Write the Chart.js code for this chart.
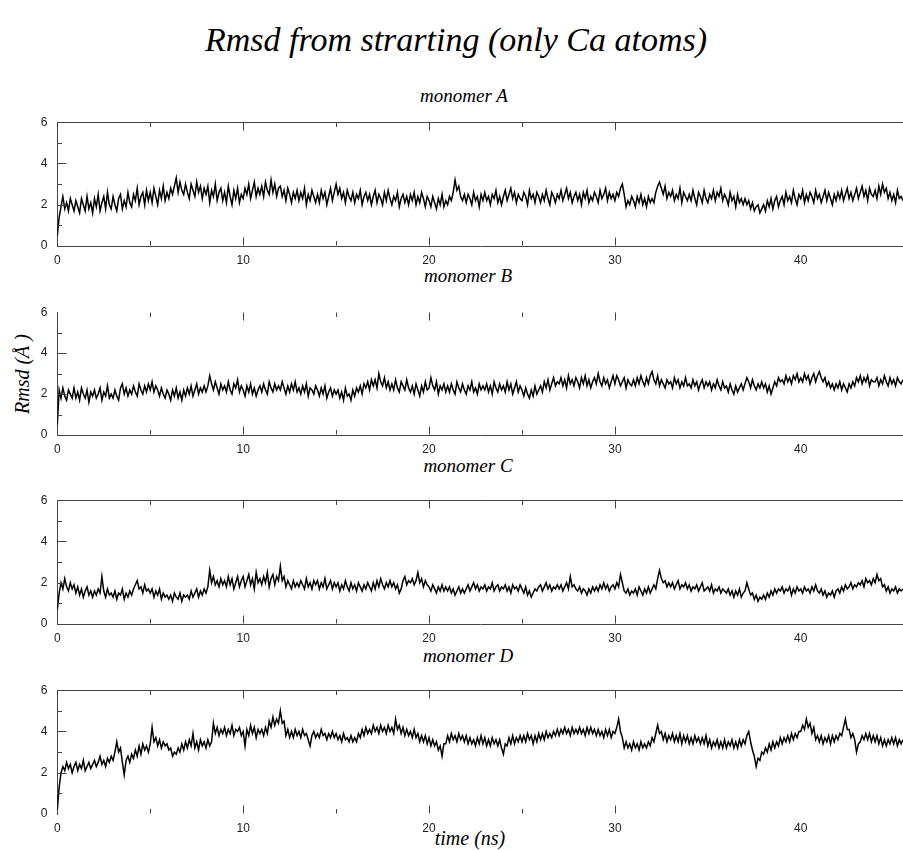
<!DOCTYPE html>
<html>
<head>
<meta charset="utf-8">
<script src="https://cdn.jsdelivr.net/npm/chart.js@4.4.1/dist/chart.umd.min.js"></script>
<style>
  html, body { margin:0; padding:0; background:#fff; }
  body { width:903px; height:850px; position:relative; overflow:hidden; }
  canvas { position:absolute; left:0; }
  .t { position:absolute; font-family:"Liberation Serif","DejaVu Serif",serif; font-style:italic; color:#000; white-space:nowrap; line-height:1; transform:translate(-50%,-50%); }
</style>
</head>
<body>
<div class="t" style="left:456px; top:40px; font-size:34px;">Rmsd from strarting (only Ca atoms)</div>
<div class="t" style="left:464px; top:95px; font-size:19px;">monomer A</div>
<div class="t" style="left:468px; top:275px; font-size:19px;">monomer B</div>
<div class="t" style="left:468px; top:465px; font-size:19px;">monomer C</div>
<div class="t" style="left:468px; top:655px; font-size:19px;">monomer D</div>
<div class="t" style="left:470px; top:838px; font-size:20px;">time (ns)</div>
<div class="t" style="left:22px; top:374px; font-size:20px; transform:translate(-50%,-50%) rotate(-90deg);">Rmsd (Å )</div>

<canvas id="cA"></canvas>
<canvas id="cB"></canvas>
<canvas id="cC"></canvas>
<canvas id="cD"></canvas>

<script>
const STEP_NS = 0.1;
const X_MAX = 45.5;
const xTickLabels = [0, 10, 20, 30, 40];
const yTickLabels = [0, 2, 4, 6];
const monomerNames = ['monomer A', 'monomer B', 'monomer C', 'monomer D'];

const rmsdA = [
0.5,1.4,1.9,2.4,1.8,2.1,1.7,2.3,2.0,1.7,
2.2,1.9,1.6,2.3,2.0,1.7,2.4,1.8,2.1,1.6,
2.3,1.9,2.5,1.7,2.1,2.4,1.8,2.6,2.0,1.8,
2.4,2.0,1.7,2.3,2.5,1.8,2.2,1.9,2.6,2.1,
1.9,2.5,2.2,2.8,2.0,2.4,2.6,2.0,2.7,2.2,
2.6,2.1,2.8,2.4,2.0,2.7,2.3,2.9,2.2,2.6,
2.3,2.8,2.5,2.9,3.3,2.6,3.1,2.7,2.5,3.0,
2.6,2.3,3.0,2.7,2.4,3.1,2.6,2.9,2.3,2.8,
2.5,2.9,2.1,2.7,2.4,3.0,2.2,2.6,2.8,2.2,
2.6,2.1,2.9,2.4,2.0,2.7,2.3,2.8,2.1,2.5,
2.3,2.8,2.5,3.0,2.3,2.7,3.1,2.4,2.8,2.5,
2.9,2.4,3.1,2.7,2.5,3.2,2.6,3.0,2.4,2.8,
2.9,2.4,2.7,2.2,2.8,2.5,2.1,2.6,2.3,2.7,
2.2,2.6,2.3,2.8,2.0,2.5,2.2,2.7,2.4,2.1,
2.5,2.1,2.7,2.3,2.6,2.0,2.4,2.8,2.2,2.6,
3.0,2.5,2.8,2.3,2.6,2.1,2.7,2.4,2.2,2.6,
2.1,2.5,2.3,2.7,2.0,2.4,2.6,2.2,2.5,2.0,
2.4,2.7,2.1,2.5,2.3,2.0,2.6,2.2,2.7,2.3,
2.0,2.4,2.2,2.6,1.9,2.3,2.5,2.1,2.4,2.0,
2.5,2.2,2.6,2.0,2.4,2.1,2.6,2.3,1.9,2.4,
2.2,1.9,2.4,2.1,1.8,2.3,2.0,2.5,1.9,2.2,
2.0,2.4,2.2,2.6,3.2,2.7,2.9,2.4,2.2,2.5,
2.1,2.5,2.3,2.0,2.6,2.2,2.4,1.9,2.5,2.2,
2.6,2.2,2.4,2.0,2.5,2.3,2.7,2.1,2.4,2.0,
2.4,2.7,2.2,2.5,2.8,2.3,2.6,2.1,2.5,2.3,
2.2,2.6,2.4,2.0,2.7,2.3,2.5,2.1,2.6,2.4,
2.1,2.5,2.2,2.7,2.3,2.0,2.6,2.4,2.1,2.5,
2.3,2.7,2.2,2.5,2.8,2.3,2.6,2.1,2.4,2.6,
2.2,2.5,2.0,2.6,2.3,2.7,2.1,2.4,2.2,2.6,
2.4,2.1,2.7,2.3,2.5,2.8,2.2,2.6,2.3,2.5,
2.2,2.6,2.4,2.8,3.0,2.5,1.9,2.2,2.0,2.4,
2.2,1.9,2.4,2.1,2.5,2.0,2.3,1.9,2.4,2.1,
2.3,2.1,2.6,2.9,3.1,2.8,2.5,2.9,2.3,2.6,
2.4,2.7,2.2,2.5,2.3,2.8,2.1,2.6,2.4,2.2,
2.5,2.2,2.7,2.3,2.0,2.6,2.4,2.1,2.7,2.3,
2.1,2.5,2.3,2.7,2.2,2.6,2.4,2.8,2.2,2.5,
2.3,2.0,2.6,2.2,2.4,1.9,2.5,2.1,2.3,2.0,
2.3,2.0,2.2,1.8,2.1,1.7,1.9,2.0,1.6,1.8,
2.0,1.7,2.2,1.9,2.3,1.8,2.2,2.4,1.9,2.2,
2.4,2.0,2.6,2.2,2.4,2.1,2.7,2.3,2.0,2.5,
2.3,2.7,2.1,2.5,2.2,2.6,2.4,2.1,2.7,2.3,
2.5,2.1,2.4,2.7,2.2,2.6,2.3,2.0,2.5,2.2,
2.6,2.3,2.7,2.2,2.5,2.8,2.3,2.6,2.2,2.5,
2.8,2.3,2.6,2.9,2.4,2.7,2.2,2.8,2.5,2.4,
2.7,2.3,2.9,2.5,3.0,2.6,2.8,2.3,2.6,2.2,
2.5,2.1,2.7,2.3,2.4,2.2
];

const rmsdB = [
0.5,2.2,1.8,2.3,1.9,1.7,2.2,2.0,1.8,2.3,
1.8,2.1,1.7,2.3,2.0,1.8,2.2,1.6,2.1,1.9,
2.2,1.8,2.0,2.3,1.7,2.1,1.9,2.4,1.8,2.0,
1.8,2.2,1.9,1.7,2.3,2.5,2.0,2.3,1.9,2.2,
2.0,2.4,2.1,1.9,2.5,2.2,2.0,2.4,2.1,2.5,
2.2,2.6,2.1,2.4,2.2,1.9,2.3,2.0,1.8,2.2,
2.0,1.7,2.2,1.9,2.3,1.8,2.1,1.7,2.2,1.9,
2.3,2.0,2.4,1.9,2.2,2.5,2.0,2.3,2.1,2.4,
2.1,2.4,2.9,2.5,2.2,2.6,2.3,2.0,2.5,2.2,
2.4,2.1,2.6,2.2,2.0,2.5,2.3,2.7,2.1,2.4,
2.2,1.9,2.4,2.1,2.5,2.0,2.3,1.9,2.2,2.4,
2.1,2.5,2.2,2.0,2.6,2.3,2.1,2.5,2.2,2.4,
2.2,2.6,2.3,2.0,2.4,2.1,2.5,2.2,2.6,2.1,
2.3,2.0,2.4,2.1,2.5,1.9,2.3,2.2,2.0,2.4,
2.2,1.9,2.3,2.0,2.4,1.8,2.1,2.3,1.9,2.2,
2.0,2.2,1.8,2.1,1.7,2.3,1.9,2.0,1.7,2.2,
1.9,2.3,2.1,2.4,2.0,2.5,2.3,2.6,2.2,2.7,
2.4,2.7,2.3,3.0,2.6,2.4,2.8,2.3,2.6,2.2,
2.5,2.2,2.7,2.3,2.1,2.6,2.4,2.2,2.7,2.3,
2.1,2.4,2.0,2.5,2.2,1.9,2.4,2.1,2.6,2.2,
2.3,2.8,2.4,2.2,2.6,2.0,2.4,2.2,2.5,2.1,
2.4,2.1,2.5,2.2,2.0,2.6,2.3,2.1,2.5,2.2,
2.0,2.4,2.2,2.6,2.1,2.3,2.0,2.5,2.2,2.4,
2.2,2.5,2.1,2.4,2.0,2.6,2.3,2.1,2.5,2.2,
2.4,2.1,2.6,2.2,2.5,2.0,2.3,2.6,2.1,2.4,
2.2,1.9,2.3,2.0,1.8,2.2,1.9,2.4,2.0,2.2,
2.4,2.1,2.6,2.3,2.7,2.2,2.5,2.8,2.4,2.6,
2.5,2.8,2.4,2.7,2.3,2.9,2.5,2.7,2.4,2.8,
2.6,2.3,2.8,2.5,2.9,2.4,2.7,2.3,2.6,2.8,
2.5,3.0,2.6,2.4,2.8,2.5,2.7,2.3,2.6,2.9,
2.5,2.9,2.7,2.4,2.6,2.8,2.3,2.7,2.5,2.4,
2.7,2.4,2.8,2.5,2.9,2.6,2.4,2.8,2.5,2.9,
3.1,2.7,2.5,2.9,2.4,2.7,2.5,2.3,2.7,2.5,
2.6,2.3,2.8,2.5,2.7,2.3,2.6,2.4,2.8,2.4,
2.5,2.3,2.7,2.4,2.6,2.2,2.5,2.7,2.3,2.6,
2.4,2.6,2.2,2.5,2.3,2.7,2.4,2.2,2.6,2.3,
2.4,2.1,2.5,2.2,2.0,2.4,2.1,2.3,2.5,2.2,
2.5,2.8,2.6,2.3,2.7,2.4,2.2,2.5,2.3,2.6,
2.3,2.5,2.1,2.4,2.0,2.3,2.6,2.4,2.8,2.6,
2.7,2.5,2.9,2.6,2.8,2.5,2.9,2.7,3.0,2.6,
2.8,2.6,3.0,2.7,2.9,2.5,2.8,3.0,2.6,2.9,
3.1,2.8,2.6,2.8,2.4,2.6,2.3,2.5,2.2,2.5,
2.3,2.6,2.2,2.5,2.3,2.1,2.5,2.3,2.6,2.4,
2.8,2.6,2.9,2.5,2.8,2.6,2.9,2.4,2.7,2.6,
2.6,2.8,2.4,2.7,2.5,2.9,2.6,2.4,2.8,2.5,
2.7,2.4,2.8,2.6,2.5,2.7
];

const rmsdC = [
0.7,1.5,2.0,1.7,2.2,1.8,1.6,2.0,1.7,1.9,
1.5,1.8,1.4,1.7,1.3,1.6,1.8,1.4,1.6,1.3,
1.6,1.4,1.7,1.5,2.3,1.6,1.3,1.7,1.4,1.5,
1.3,1.6,1.2,1.5,1.4,1.7,1.2,1.5,1.3,1.6,
1.4,1.7,1.9,2.1,1.7,1.8,1.5,1.9,1.6,1.7,
1.5,1.7,1.3,1.6,1.4,1.7,1.2,1.5,1.3,1.4,
1.2,1.4,1.1,1.5,1.3,1.2,1.5,1.1,1.4,1.3,
1.4,1.2,1.6,1.3,1.5,1.7,1.3,1.6,1.4,1.7,
1.5,1.8,2.6,2.0,2.3,1.9,2.1,1.8,2.2,1.9,
2.1,1.8,2.3,1.9,2.2,1.7,2.0,2.3,1.8,2.1,
2.3,1.8,2.1,2.4,1.9,2.2,1.7,2.5,2.0,2.2,
1.9,2.3,2.0,2.5,1.8,2.2,2.4,1.9,2.3,2.1,
2.8,2.1,2.3,1.8,2.1,1.9,1.7,2.1,1.8,2.0,
1.8,2.1,1.9,1.7,2.2,1.8,2.0,1.7,2.1,1.9,
2.1,1.7,2.0,1.8,2.2,1.7,1.9,2.1,1.7,2.0,
1.8,2.0,1.6,1.9,1.7,2.1,1.8,1.6,2.0,1.7,
1.9,1.6,2.0,1.8,1.6,1.9,1.7,2.0,1.8,1.6,
2.0,1.7,2.1,1.8,2.2,1.9,1.7,2.0,1.8,2.1,
1.8,2.0,1.7,1.9,1.5,1.7,2.1,2.3,1.9,2.1,
2.0,2.2,1.9,2.1,2.5,2.0,2.2,1.8,2.1,1.9,
1.8,1.6,1.9,1.7,1.5,1.8,1.6,1.9,1.6,1.8,
1.6,1.8,1.5,1.7,1.4,1.6,1.8,1.5,1.7,1.5,
1.7,1.9,1.6,1.8,2.0,1.7,1.9,1.6,1.8,1.7,
1.9,1.6,1.8,1.7,2.0,1.6,1.8,1.9,1.6,1.8,
1.7,1.9,1.6,1.8,1.5,1.9,1.7,1.8,1.6,1.9,
1.7,1.5,1.8,1.4,1.6,1.3,1.5,1.7,1.6,1.8,
1.9,1.6,1.8,2.0,1.7,1.9,1.6,1.8,1.7,1.9,
1.7,1.9,1.6,1.8,2.0,1.7,2.3,1.8,1.9,1.7,
1.6,1.8,1.5,1.7,1.6,1.4,1.7,1.5,1.8,1.6,
1.8,1.6,1.9,1.7,2.0,1.7,1.9,1.6,1.8,1.9,
1.7,2.0,1.8,2.4,2.0,1.6,1.5,1.7,1.4,1.6,
1.5,1.7,1.4,1.8,1.6,1.4,1.7,1.5,1.8,1.5,
1.7,1.9,1.7,2.2,2.6,2.2,2.0,2.1,1.8,2.0,
1.8,2.0,1.7,1.9,2.1,1.7,1.9,1.8,2.0,1.7,
1.9,1.6,1.8,1.7,1.9,1.6,1.8,2.0,1.6,1.7,
1.8,1.6,1.9,1.5,1.7,1.6,1.8,1.5,1.7,1.6,
1.5,1.7,1.4,1.6,1.3,1.6,1.4,1.7,1.3,1.5,
1.6,2.0,1.7,1.4,1.5,1.2,1.4,1.1,1.3,1.2,
1.4,1.2,1.5,1.3,1.6,1.4,1.7,1.5,1.7,1.6,
1.8,1.5,1.7,1.6,1.8,1.4,1.7,1.5,1.8,1.6,
1.7,1.5,1.8,1.6,1.7,1.5,1.8,1.6,1.9,1.6,
1.5,1.7,1.4,1.6,1.3,1.5,1.4,1.6,1.3,1.6,
1.7,1.5,1.8,1.6,1.9,1.7,1.8,2.0,1.7,1.9,
1.8,2.0,1.9,2.1,1.8,2.2,2.0,2.1,1.9,2.2,
2.0,2.4,2.1,2.2,1.8,1.9,1.6,1.8,1.5,1.7,
1.6,1.8,1.5,1.7,1.6,1.7
];

const rmsdD = [
0.2,1.3,2.0,2.3,2.1,2.5,2.2,2.4,2.0,2.3,
2.5,2.1,2.4,2.2,2.6,2.1,2.3,2.5,2.2,2.4,
2.6,2.3,2.5,2.8,2.4,2.6,2.3,2.7,2.5,2.8,
2.6,3.0,3.5,3.0,3.2,2.5,1.9,2.6,2.8,2.5,
2.9,2.7,3.1,2.8,3.3,2.9,3.4,3.1,3.3,3.0,
3.4,4.2,3.5,3.7,3.3,3.6,3.2,3.5,3.3,3.4,
3.1,3.2,2.8,3.0,2.9,3.2,3.0,3.4,3.1,3.5,
3.2,3.6,3.3,3.9,3.2,3.5,3.1,3.6,3.3,3.5,
3.2,3.6,3.3,3.5,4.4,3.9,4.2,3.8,4.1,3.9,
4.2,3.8,4.1,3.9,4.3,3.8,4.1,4.0,4.2,3.8,
4.0,3.3,4.1,3.8,4.3,3.9,4.2,3.7,4.1,3.9,
4.1,3.8,4.2,3.9,4.5,4.2,4.7,4.3,4.6,4.4,
5.0,4.4,4.5,3.8,4.1,3.7,4.0,3.7,4.1,3.8,
4.0,3.7,4.1,3.8,3.9,3.6,3.3,3.8,4.0,3.7,
3.9,3.7,4.1,3.8,3.9,3.6,3.9,3.7,4.0,3.7,
3.9,3.6,3.8,3.5,3.9,3.6,3.7,3.5,3.8,3.5,
3.7,3.5,3.9,3.7,4.1,3.8,4.2,3.9,4.1,3.9,
4.3,4.0,4.2,3.9,4.3,4.0,4.2,3.9,4.3,4.0,
4.2,3.9,4.6,4.1,4.3,3.9,4.2,3.8,4.1,3.8,
4.0,3.7,4.1,3.7,3.9,3.5,3.8,3.5,3.8,3.4,
3.7,3.3,3.6,3.3,3.5,3.1,3.3,2.8,3.4,3.4,
3.8,3.5,3.9,3.6,3.8,3.5,3.9,3.6,3.8,3.5,
3.8,3.4,3.7,3.4,3.6,3.3,3.7,3.4,3.8,3.4,
3.7,3.3,3.6,3.3,3.7,3.4,3.6,3.3,3.6,3.2,
2.9,3.4,3.3,3.7,3.4,3.8,3.4,3.7,3.5,3.8,
3.5,3.8,3.5,3.9,3.6,3.8,3.4,3.8,3.5,3.9,
3.6,3.9,3.6,4.0,3.7,3.9,3.7,4.0,3.8,4.1,
3.8,4.1,3.9,4.2,3.9,4.1,3.8,4.2,3.9,4.1,
3.9,4.2,3.9,4.1,3.8,4.2,3.9,4.2,3.9,4.1,
3.8,4.1,3.8,4.0,3.7,4.1,3.8,4.1,3.7,4.0,
3.9,4.2,4.6,4.0,3.7,3.2,3.5,3.2,3.4,3.1,
3.5,3.2,3.4,3.1,3.5,3.2,3.4,3.2,3.5,3.3,
3.7,3.5,3.9,4.3,3.9,4.0,3.6,3.9,3.5,3.8,
3.6,3.9,3.5,3.8,3.5,3.9,3.4,3.8,3.5,3.8,
3.4,3.7,3.4,3.8,3.5,3.7,3.4,3.7,3.4,3.8,
3.3,3.6,3.2,3.5,3.3,3.6,3.2,3.5,3.2,3.6,
3.2,3.5,3.3,3.6,3.2,3.5,3.2,3.6,3.3,3.6,
3.4,3.8,4.0,3.5,3.1,2.8,2.3,2.7,2.6,3.0,
2.9,3.2,3.0,3.4,3.1,3.5,3.2,3.5,3.3,3.7,
3.4,3.7,3.5,3.8,3.5,3.9,3.6,3.9,3.7,4.0,
4.0,4.3,4.1,4.6,4.2,4.4,3.9,4.2,3.6,3.8,
3.5,3.8,3.4,3.7,3.5,3.8,3.4,3.8,3.5,3.8,
3.6,3.9,3.8,4.2,4.6,4.1,4.1,3.7,3.9,3.6,
3.0,3.4,3.5,3.8,3.6,3.9,3.6,3.9,3.5,3.8,
3.5,3.8,3.4,3.7,3.3,3.6,3.3,3.6,3.4,3.7,
3.4,3.7,3.3,3.6,3.4,3.6
];

// ---- layout (positions only) ----
const PANELS = [
  { id:'cA', values:rmsdA, top:115,   height:130.7, topLine:true,  bottomLine:true  },
  { id:'cB', values:rmsdB, top:304.5, height:129.5, topLine:false, bottomLine:true  },
  { id:'cC', values:rmsdC, top:493.3, height:130.7, topLine:true,  bottomLine:true  },
  { id:'cD', values:rmsdD, top:682.7, height:131.3, topLine:true,  bottomLine:false }
];
const PAD_TOP = 10, X_AXIS_H = 30, Y_AXIS_W = 57.3;
const FRAME = '#444';
const X_MAJOR_TICKS = [10, 20, 30];
const X_MINOR_TICKS = [5, 15, 25];
const Y_MAJOR_TICKS = [2, 4];
const Y_MINOR_TICKS = [1, 3, 5];

const frameTicks = {
  id: 'frameTicks',
  afterDatasetsDraw(chart, args, opts) {
    const { ctx, chartArea: a, scales: { x, y } } = chart;
    ctx.save();
    ctx.strokeStyle = FRAME;
    ctx.lineWidth = 1;
    ctx.beginPath();
    const top = Math.round(a.top) + 0.5, bot = Math.round(a.bottom) - 0.5, left = Math.round(a.left) + 0.5;
    if (opts.topLine) { ctx.moveTo(a.left, top); ctx.lineTo(a.right, top); }
    const xt = (v, len) => {
      const px = Math.round(x.getPixelForValue(v)) + 0.5;
      ctx.moveTo(px, top); ctx.lineTo(px, top + len);
      ctx.moveTo(px, bot); ctx.lineTo(px, bot - len);
    };
    X_MAJOR_TICKS.forEach(v => xt(v, 8));
    X_MINOR_TICKS.forEach(v => xt(v, 4.5));
    const yt = (v, len) => {
      const py = Math.round(y.getPixelForValue(v)) + 0.5;
      ctx.moveTo(left, py); ctx.lineTo(left + len, py);
    };
    Y_MAJOR_TICKS.forEach(v => yt(v, 9));
    Y_MINOR_TICKS.forEach(v => yt(v, 4.5));
    ctx.stroke();
    ctx.restore();
  }
};

PANELS.forEach((p, idx) => {
  const cv = document.getElementById(p.id);
  const h = Math.round(PAD_TOP + p.height + X_AXIS_H);
  cv.width = 903; cv.height = h;
  cv.style.width = '903px'; cv.style.height = h + 'px';
  cv.style.top = (p.top - PAD_TOP) + 'px';
  const pts = p.values.map((v, i) => ({ x: Math.round(i * STEP_NS * 10) / 10, y: v }));
  new Chart(cv, {
    type: 'line',
    data: { datasets: [{ label: monomerNames[idx], data: pts, borderColor: '#000', borderWidth: 1.5, pointRadius: 0, tension: 0, fill: false, borderJoinStyle: 'miter' }] },
    options: {
      responsive: false, animation: false, devicePixelRatio: 1,
      layout: { padding: { top: PAD_TOP, left: 0, right: 0, bottom: 0 } },
      plugins: { legend: { display: false }, tooltip: { enabled: false }, title: { display: false },
                 frameTicks: { topLine: p.topLine } },
      scales: {
        x: {
          type: 'linear', min: 0, max: X_MAX,
          afterBuildTicks: s => { s.ticks = xTickLabels.map(v => ({ value: v })); },
          afterFit: s => { s.height = X_AXIS_H; },
          grid: { display: false, drawTicks: false },
          border: { display: p.bottomLine, color: FRAME, width: 1 },
          ticks: { color: '#222', font: { family: 'Liberation Sans', size: 12 }, padding: 7, maxRotation: 0, autoSkip: false }
        },
        y: {
          min: 0, max: 6,
          afterBuildTicks: s => { s.ticks = yTickLabels.map(v => ({ value: v })); },
          afterFit: s => { s.width = Y_AXIS_W; },
          grid: { display: false, drawTicks: false },
          border: { display: true, color: FRAME, width: 1 },
          ticks: { color: '#222', font: { family: 'Liberation Sans', size: 12 }, padding: 10 }
        }
      }
    },
    plugins: [frameTicks]
  });
});
</script>
</body>
</html>
